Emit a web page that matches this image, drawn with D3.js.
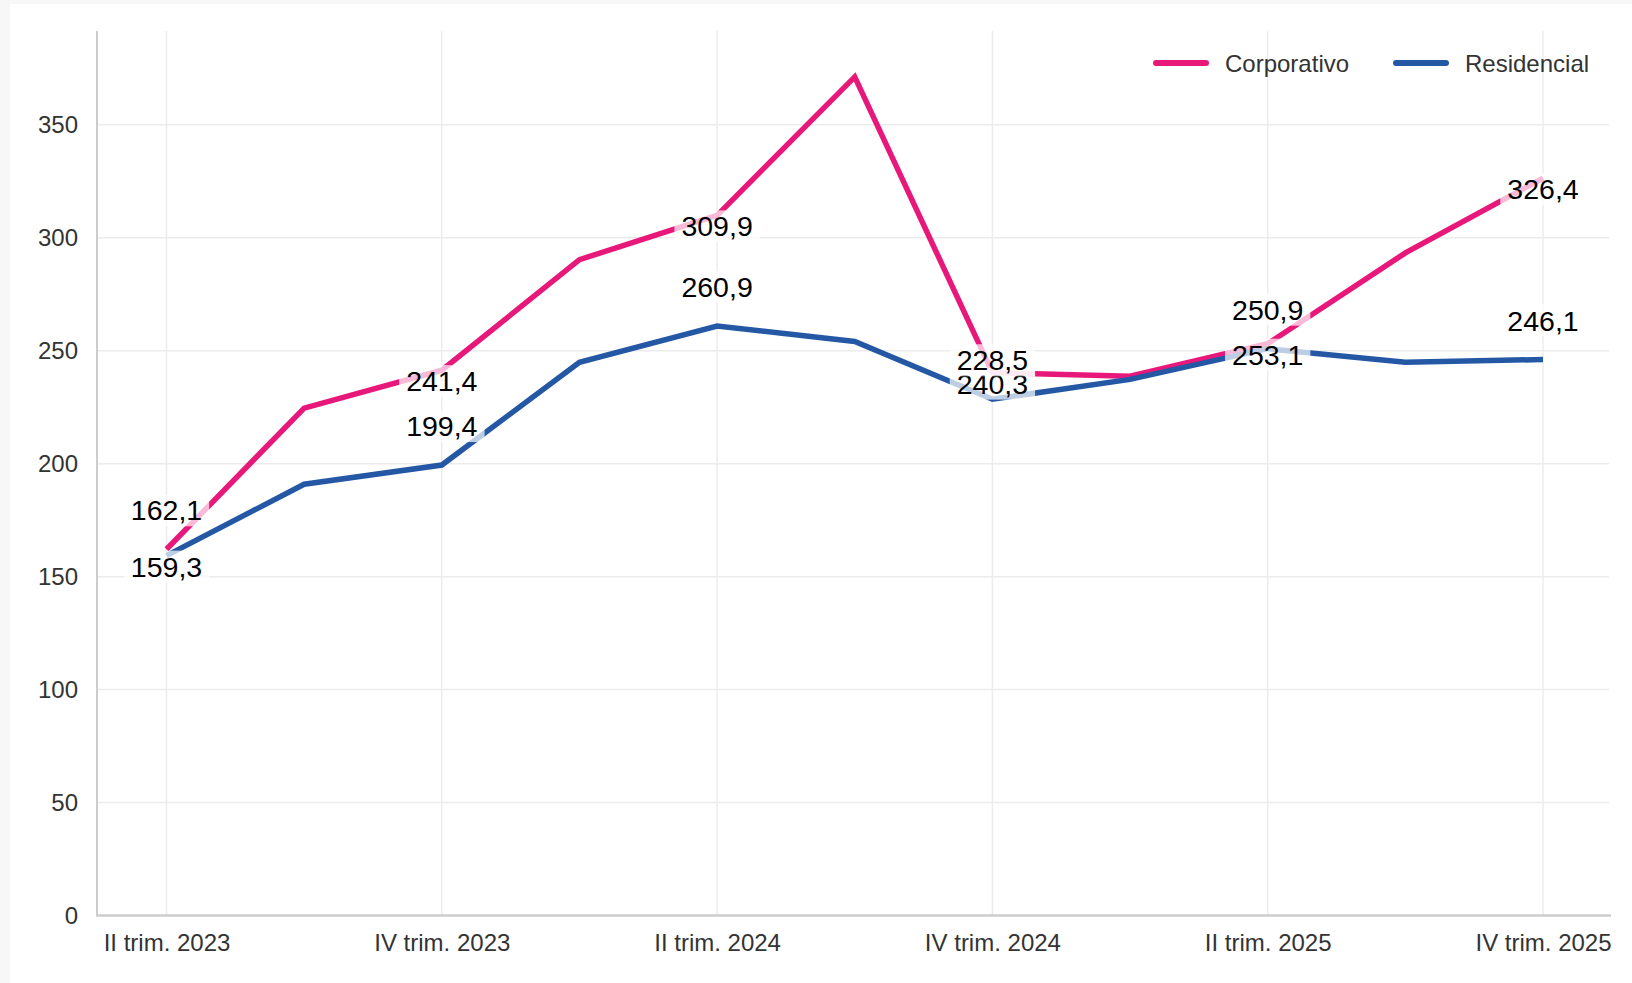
<!DOCTYPE html>
<html>
<head>
<meta charset="utf-8">
<script src="https://cdn.jsdelivr.net/npm/d3@7"></script>
<style>
  html, body { margin: 0; padding: 0; background: #f7f7f7; }
  svg { display: block; font-family: "Liberation Sans", Arial, sans-serif; }
</style>
</head>
<body>
<svg id="chart" width="1632" height="983"></svg>
<script>
    // quarters shown on the x axis (only every other one gets a label)
    var quarters = ["II trim. 2023", "III trim. 2023", "IV trim. 2023", "I trim. 2024",
                    "II trim. 2024", "III trim. 2024", "IV trim. 2024", "I trim. 2025",
                    "II trim. 2025", "III trim. 2025", "IV trim. 2025"];
    var corporativo = [162.1, 224.6, 241.4, 290.3, 309.9, 371.2, 240.3, 238.7, 253.1, 293.3, 326.4];
    var residencial = [159.3, 190.9, 199.4, 244.9, 260.9, 254.1, 228.5, 237.3, 250.9, 244.9, 246.1];
    var yTicks = [0, 50, 100, 150, 200, 250, 300, 350];

    var series = [
        {name: "Corporativo", values: corporativo, color: "#e8187a", side: "below"},
        {name: "Residencial", values: residencial, color: "#2458a5", side: "above"}
    ];

    var width = 1632, height = 983;
    var svg = d3.select("#chart");

    // white card
    svg.append("rect")
        .attr("x", 10).attr("y", 4)
        .attr("width", width - 10).attr("height", height - 4)
        .attr("fill", "#ffffff");

    var x = d3.scalePoint().domain(quarters).range([166.5, 1543]);
    var y = d3.scaleLinear().domain([0, 350]).range([915.5, 124.8]);
    var plotLeft = 97, plotRight = 1611, plotTop = 31;

    // horizontal grid
    svg.append("g").selectAll("line")
        .data(yTicks.filter(function (d) { return d > 0; }))
        .enter().append("line")
        .attr("x1", plotLeft).attr("x2", plotRight - 2)
        .attr("y1", function (d) { return y(d); })
        .attr("y2", function (d) { return y(d); })
        .attr("stroke", "#ececec").attr("stroke-width", 1.5);

    var labelled = quarters.filter(function (d, i) { return i % 2 === 0; });

    // vertical grid
    svg.append("g").selectAll("line")
        .data(labelled)
        .enter().append("line")
        .attr("x1", function (d) { return x(d); })
        .attr("x2", function (d) { return x(d); })
        .attr("y1", plotTop).attr("y2", y(0))
        .attr("stroke", "#ececec").attr("stroke-width", 1.5);

    // y axis
    var yAxis = svg.append("g")
        .attr("transform", "translate(" + plotLeft + ",0)")
        .call(d3.axisLeft(y).tickValues(yTicks).tickSize(0).tickPadding(19));
    yAxis.select(".domain").remove();
    yAxis.append("line")
        .attr("x1", 0).attr("x2", 0)
        .attr("y1", plotTop).attr("y2", y(0))
        .attr("stroke", "#cccccc").attr("stroke-width", 2);
    yAxis.selectAll("text")
        .attr("font-size", 24)
        .attr("fill", "#333333")
        .attr("font-family", "Liberation Sans, Arial, sans-serif");

    // x axis
    var xAxis = svg.append("g")
        .attr("transform", "translate(0," + y(0) + ")")
        .call(d3.axisBottom(x).tickValues(labelled).tickSize(0).tickPadding(18));
    xAxis.select(".domain").remove();
    xAxis.append("line")
        .attr("x1", plotLeft - 1).attr("x2", plotRight)
        .attr("y1", 0).attr("y2", 0)
        .attr("stroke", "#cccccc").attr("stroke-width", 2.5);
    xAxis.selectAll("text")
        .attr("font-size", 24)
        .attr("fill", "#333333")
        .attr("font-family", "Liberation Sans, Arial, sans-serif");

    // lines
    var line = d3.line()
        .x(function (d, i) { return x(quarters[i]); })
        .y(function (d) { return y(d); });

    svg.append("g").selectAll("path")
        .data(series)
        .enter().append("path")
        .attr("d", function (d) { return line(d.values); })
        .attr("fill", "none")
        .attr("stroke", function (d) { return d.color; })
        .attr("stroke-width", 5.5)
        .attr("stroke-linejoin", "miter");

    // value labels on the labelled quarters, with a see-through white box
    var fmt = function (v) { return d3.format(".1f")(v).replace(".", ","); };
    var labels = svg.append("g");
    series.forEach(function (s) {
        s.values.forEach(function (v, i) {
            if (i % 2 !== 0) return;
            var side = s.side;
            if (i === 0) side = (side === "above") ? "below" : "above";
            var cy = y(v) + (side === "above" ? -39 : 11);
            var g = labels.append("g");
            var t = g.append("text")
                .attr("x", x(quarters[i]))
                .attr("y", cy)
                .attr("text-anchor", "middle")
                .attr("dominant-baseline", "central")
                .attr("font-size", 28.5)
                .attr("fill", "#000000")
                .text(fmt(v));
            var bb = t.node().getBBox();
            g.insert("rect", "text")
                .attr("x", bb.x - 7).attr("y", bb.y)
                .attr("width", bb.width + 14).attr("height", bb.height)
                .attr("fill", "#ffffff").attr("fill-opacity", 0.7);
        });
    });

    // legend
    var legend = svg.append("g").attr("transform", "translate(0,63)");
    var legX = [1156, 1396];
    series.forEach(function (s, i) {
        legend.append("line")
            .attr("x1", legX[i]).attr("x2", legX[i] + 50)
            .attr("y1", 0).attr("y2", 0)
            .attr("stroke", s.color).attr("stroke-width", 6)
            .attr("stroke-linecap", "round");
        legend.append("text")
            .attr("x", legX[i] + 69).attr("y", 0)
            .attr("dominant-baseline", "central")
            .attr("font-size", 24)
            .attr("fill", "#333333")
            .text(s.name);
    });
</script>
</body>
</html>
